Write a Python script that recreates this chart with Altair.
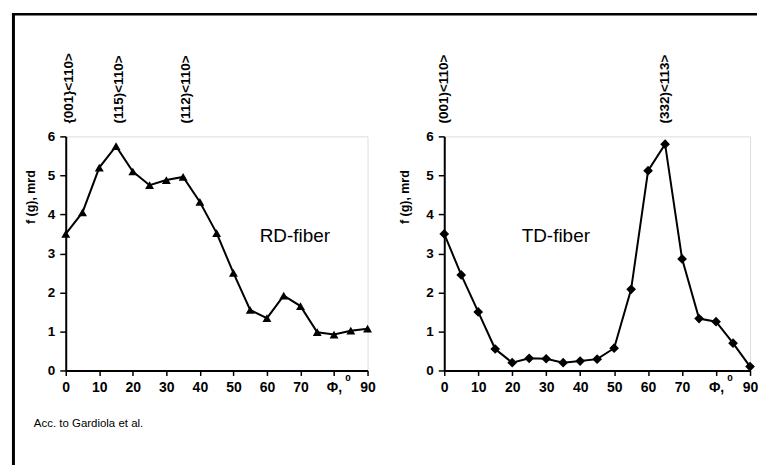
import altair as alt
import pandas as pd

# ---- data ----
phi = [0, 5, 10, 15, 20, 25, 30, 35, 40, 45, 50, 55, 60, 65, 70, 75, 80, 85, 90]
rd_fiber = [3.5, 4.05, 5.2, 5.75, 5.1, 4.75, 4.88, 4.96, 4.32, 3.52, 2.5, 1.55,
            1.34, 1.92, 1.65, 0.98, 0.92, 1.02, 1.07]
td_fiber = [3.5, 2.45, 1.5, 0.55, 0.2, 0.31, 0.3, 0.2, 0.24, 0.29, 0.57, 2.08,
            5.12, 5.8, 2.86, 1.33, 1.25, 0.7, 0.1]

rd_orient_labels = ["{001}<110>", "(115)<110>", "(112)<110>"]
rd_orient_phi = [0, 15, 35]
td_orient_labels = ["(001)<110>", "(332)<113>"]
td_orient_phi = [0, 65]

x_ticks = [0, 10, 20, 30, 40, 50, 60, 70, 80, 90]
y_ticks = [0, 1, 2, 3, 4, 5, 6]

FONT = "Liberation Sans"
H = 235


def one(text, **extra):
    d = {"t": [text]}
    for k, v in extra.items():
        d[k] = [v]
    return pd.DataFrame(d)


def panel(values, shape, size, orient_labels, orient_phi, name, name_x,
          ytitle_x, width, ann_dx, frame=False):
    df = pd.DataFrame({"phi": phi, "f": values})
    xs = alt.Scale(domain=[0, 90], nice=False)
    ys = alt.Scale(domain=[0, 6], nice=False)
    xax = alt.Axis(values=x_ticks, title=None, grid=False, labelOverlap=False,
                   labelExpr="datum.value == 80 ? 'Φ,' : datum.label",
                   labelFont=FONT, labelFontSize=14, labelFontWeight="bold",
                   labelColor="black", labelPadding=5, labelFlush=False,
                   domainColor="black", domainWidth=2, tickColor="black",
                   tickWidth=1.5, tickSize=5)
    yax = alt.Axis(values=y_ticks, title=None, grid=False, labelOverlap=False,
                   labelFont=FONT, labelFontSize=13.5, labelFontWeight="bold",
                   labelColor="black", labelPadding=5,
                   domainColor="black", domainWidth=2, tickColor="black",
                   tickWidth=1.5, tickSize=6)
    X = alt.X("phi:Q", scale=xs, axis=xax)
    Y = alt.Y("f:Q", scale=ys, axis=yax)
    base = alt.Chart(df)
    line = base.mark_line(color="black", strokeWidth=2).encode(x=X, y=Y)
    pts = base.mark_point(shape=shape, filled=True, color="black", size=size,
                          opacity=1).encode(x=X, y=Y)

    ann = alt.Chart(pd.DataFrame({"phi": orient_phi, "t": orient_labels})).mark_text(
        angle=270, align="left", baseline="middle", font=FONT, fontSize=13.5,
        fontWeight="bold", color="black", xOffset=ann_dx
    ).encode(x=X, y=alt.value(-13), text="t:N")

    ytitle = alt.Chart(one("f (g), mrd")).mark_text(
        angle=270, align="center", baseline="middle", font=FONT, fontSize=12.5,
        fontWeight="bold", color="black"
    ).encode(x=alt.value(ytitle_x), y=alt.value(61), text="t:N")

    lbl = alt.Chart(one(name)).mark_text(
        align="center", baseline="middle", font=FONT, fontSize=19,
        color="black"
    ).encode(x=alt.value(name_x), y=alt.value(100), text="t:N")

    sup = alt.Chart(one("0", phi=80)).mark_text(
        align="center", baseline="middle", font=FONT, fontSize=10,
        fontWeight="bold", color="black", dx=14
    ).encode(x=X, y=alt.value(H + 8), text="t:N")

    layers = [line, pts, ann, ytitle, lbl, sup]
    if frame:
        anchor = alt.Chart(one("")).mark_rect(color="white").encode(
            x=alt.value(-65), x2=alt.value(-63), y=alt.value(-135), y2=alt.value(-133))
        left_border = alt.Chart(one("")).mark_rule(color="black", strokeWidth=3).encode(
            x=alt.value(-52.5), y=alt.value(-123), y2=alt.value(330))
        top_border = alt.Chart(one("")).mark_rule(color="black", strokeWidth=2.5).encode(
            y=alt.value(-122.5), x=alt.value(-54), x2=alt.value(694))
        caption = alt.Chart(one("Acc. to Gardiola et al.")).mark_text(
            align="left", baseline="middle", font=FONT, fontSize=11.5,
            color="black"
        ).encode(x=alt.value(-32), y=alt.value(289), text="t:N")
        layers = [anchor, left_border, top_border, caption] + layers
    return alt.layer(*layers).properties(width=width, height=H)


left = panel(rd_fiber, "triangle-up", 80, rd_orient_labels, rd_orient_phi,
             "RD-fiber", 230, -35, 303, 3, frame=True)
right = panel(td_fiber, "diamond", 95, td_orient_labels, td_orient_phi,
              "TD-fiber", 112, -39, 307, 0)

chart = alt.hconcat(left, right, spacing=77, bounds="flush").properties(
    padding=0
).configure_view(stroke=None).configure(background="white")

chart.save("out.html", embed_options={"renderer": "svg", "actions": False})
